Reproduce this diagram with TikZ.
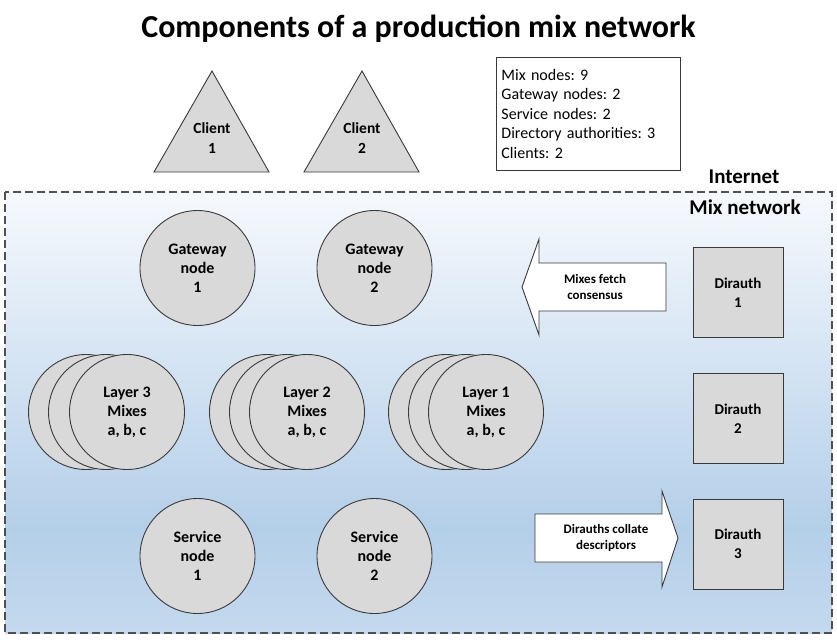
\documentclass[tikz,border=0pt]{standalone}
\usepackage{fontspec}
\setmainfont{Carlito}
\frenchspacing
\definecolor{nodefill}{HTML}{D9D9D9}
\definecolor{edgec}{HTML}{3A3A3A}
\definecolor{dashc}{HTML}{505050}
\definecolor{bgtop}{HTML}{F6F9FD}
\definecolor{bgmid}{HTML}{B4CFE9}
\definecolor{bgbot}{HTML}{C4D9EE}
\pgfdeclareverticalshading{mixbg}{100bp}{color(0bp)=(bgbot); color(25bp)=(bgbot); color(37bp)=(bgmid); color(75bp)=(bgtop); color(100bp)=(bgtop)}
\begin{document}
\begin{tikzpicture}[x=1pt,y=-1pt,
  comp/.style={draw=edgec, line width=0.9pt, fill=nodefill},
  circnode/.style={comp, circle, minimum size=115pt, inner sep=0pt, align=center,
     font=\fontsize{16}{19}\selectfont\bfseries},
  dirbox/.style={comp, rectangle, minimum size=90pt, inner sep=0pt, align=center,
     font=\fontsize{15}{19}\selectfont\bfseries},
  lbl/.style={align=center, inner sep=0pt},
  bigarrow/.style={draw=edgec, line width=0.9pt, fill=white},
  arrowtext/.style={align=center, inner sep=0pt, font=\fontsize{13}{16}\selectfont\bfseries}]
\useasboundingbox (0,0) rectangle (837,642);

% title
\node[lbl, font=\fontsize{32}{38}\selectfont\bfseries] (title) at (418.5,29) {Components of a production mix network};

% mix network area
\shade[shading=mixbg] (5,192) rectangle (832,633);
\draw[dashc, line width=1.2pt, dash pattern=on 8pt off 4pt] (5,192) rectangle (832,633);
\node[lbl, font=\fontsize{21}{24}\selectfont\bfseries] (internet) at (744,177) {Internet};
\node[lbl, font=\fontsize{21}{24}\selectfont\bfseries] (mixnet) at (745,207) {Mix network};

% clients
\draw[comp] (212,71) -- (269,172) -- (154,172) -- cycle;
\node[lbl, font=\fontsize{15.5}{20}\selectfont\bfseries] (client1) at (212,138) {Client\\1};
\draw[comp] (362,71) -- (419,172) -- (304,172) -- cycle;
\node[lbl, font=\fontsize{15.5}{20}\selectfont\bfseries] (client2) at (362,138) {Client\\2};

% legend
\node[draw=edgec, line width=0.9pt, fill=white, anchor=north west, minimum width=184pt, minimum height=113pt,
  text width=174pt, inner xsep=5pt, inner ysep=0pt, align=left,
  font=\fontsize{16}{19.5}\selectfont] (legend) at (496,57)
  {Mix nodes: 9\\Gateway nodes: 2\\Service nodes: 2\\Directory authorities: 3\\Clients: 2};

% gateways
\node[circnode] (gw1) at (197.5,268) {Gateway\\node\\1};
\node[circnode] (gw2) at (374.5,268) {Gateway\\node\\2};

% layers
\node[circnode] (l3a) at (86,412) {};
\node[circnode] (l3b) at (106,412) {};
\node[circnode] (l3c) at (127,412) {Layer 3\\Mixes\\a, b, c};
\node[circnode] (l2a) at (267,412) {};
\node[circnode] (l2b) at (287,412) {};
\node[circnode] (l2c) at (307,412) {Layer 2\\Mixes\\a, b, c};
\node[circnode] (l1a) at (446,412) {};
\node[circnode] (l1b) at (466,412) {};
\node[circnode] (l1c) at (486,412) {Layer 1\\Mixes\\a, b, c};

% service nodes
\node[circnode] (sv1) at (197.5,556) {Service\\node\\1};
\node[circnode] (sv2) at (374.5,556) {Service\\node\\2};

% dirauths
\node[dirbox] (da1) at (738,292.5) {Dirauth\\1};
\node[dirbox] (da2) at (738,418.5) {Dirauth\\2};
\node[dirbox] (da3) at (738,544) {Dirauth\\3};

% block arrows
\draw[bigarrow] (522,287) -- (539,239) -- (539,263) -- (666,263) -- (666,311) -- (539,311) -- (539,335) -- cycle;
\node[arrowtext] (fetch) at (595,287) {Mixes fetch\\consensus};
\draw[bigarrow] (535,514) -- (662,514) -- (662,491) -- (678,538) -- (662,587) -- (662,562) -- (535,562) -- cycle;
\node[arrowtext] (collate) at (606,538) {Dirauths collate\\descriptors};
\end{tikzpicture}
\end{document}
